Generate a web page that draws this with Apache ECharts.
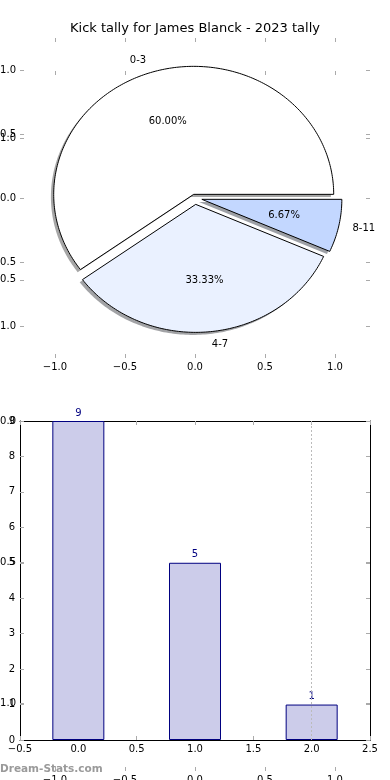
<!DOCTYPE html>
<html><head><meta charset="utf-8">
<script src="https://cdn.jsdelivr.net/npm/echarts@6/dist/echarts.min.js"></script>
<style>html,body{margin:0;padding:0;background:#fff}#c{width:390px;height:780px}</style>
</head><body><div id="c"></div>
<script>
// ---- data ----
const chartTitle = 'Kick tally for James Blanck - 2023 tally';
const pieLabels = ['0-3', '4-7', '8-11'];
const pieValues = [9, 5, 1];
const pieColors = ['#ffffff', '#eaf1ff', '#c3d7ff'];
const pieExplode = [0.03, 0.05, 0.05];
const barX = [0, 1, 2];
const barValues = [9, 5, 1];
const pieTicks = [-1, -0.5, 0, 0.5, 1];
const ghostTicks = [-1, -0.5, 0, 0.5, 1];
const watermark = 'Dream-Stats.com';

const FONT = 'DejaVu Sans';
const TICK = '#aaaaaa';
const total = pieValues.reduce((a, b) => a + b, 0);
let acc = 0;
const wedges = pieValues.map((v, i) => {
  const s = acc / total * 360; acc += v; const e = acc / total * 360;
  return [s, e, pieExplode[i], i];
});
const fmt1 = v => (v < 0 ? '\u2212' : '') + Math.abs(v).toFixed(1);

function shadowColor(hex) {
  const r = parseInt(hex.slice(1, 3), 16), g = parseInt(hex.slice(3, 5), 16), b = parseInt(hex.slice(5, 7), 16);
  return 'rgba(' + Math.round(r * 0.3) + ',' + Math.round(g * 0.3) + ',' + Math.round(b * 0.3) + ',0.5)';
}

function wedgeRender(shadow) {
  return function (params, api) {
    const s = api.value(0), e = api.value(1), ex = api.value(2), i = api.value(3);
    const mid = (s + e) / 2 * Math.PI / 180;
    const off = shadow ? -0.02 : 0;
    const cx = ex * Math.cos(mid) + off, cy = ex * Math.sin(mid) + off;
    const pts = [api.coord([cx, cy])];
    const n = Math.max(10, Math.ceil(e - s));
    for (let k = 0; k <= n; k++) {
      const a = (s + (e - s) * k / n) * Math.PI / 180;
      pts.push(api.coord([cx + Math.cos(a), cy + Math.sin(a)]));
    }
    if (shadow) {
      return { type: 'polygon', shape: { points: pts }, style: { fill: shadowColor(pieColors[i]), stroke: null } };
    }
    const lp = api.coord([cx + 1.1 * Math.cos(mid), cy + 1.1 * Math.sin(mid)]);
    const pp = api.coord([cx + 0.6 * Math.cos(mid), cy + 0.6 * Math.sin(mid)]);
    const pct = (pieValues[i] / total * 100).toFixed(2) + '%';
    return {
      type: 'group',
      children: [
        { type: 'polygon', shape: { points: pts }, style: { fill: pieColors[i], stroke: '#000', lineWidth: 1 } },
        { type: 'text', x: lp[0], y: lp[1], style: { text: pieLabels[i], fill: '#000', font: '10px "' + FONT + '"', align: Math.cos(mid) >= 0 ? 'left' : 'right', verticalAlign: 'middle' } },
        { type: 'text', x: pp[0], y: pp[1], style: { text: pct, fill: '#000', font: '10px "' + FONT + '"', align: 'center', verticalAlign: 'middle' } }
      ]
    };
  };
}

const tickBase = { show: true, inside: true, length: 4, lineStyle: { color: TICK, width: 1 } };
const lblBase = { color: '#000', fontSize: 10, fontFamily: FONT };

function ghostX(grid, pos, labels, min, max, cv) {
  return {
    type: 'value', gridIndex: grid, position: pos, min: min, max: max,
    axisLine: { show: false, onZero: false }, splitLine: { show: false },
    axisTick: Object.assign({}, tickBase, { customValues: cv }),
    axisLabel: labels ? Object.assign({}, lblBase, { show: true, customValues: cv, formatter: fmt1, margin: 4, hideOverlap: false }) : { show: false }
  };
}

const chart = echarts.init(document.getElementById('c'), null, { renderer: 'canvas' });
chart.setOption({
  animation: false,
  backgroundColor: '#fff',
  textStyle: { fontFamily: FONT },
  title: { text: chartTitle, left: 'center', top: 22, padding: 0, textStyle: { fontSize: 13, fontWeight: 'normal', color: '#000', fontFamily: FONT } },
  grid: [
    { left: 20, top: 38, width: 350, height: 320, outerBoundsMode: 'none', containLabel: false },
    { left: 20, top: 421, width: 350, height: 319, outerBoundsMode: 'none', containLabel: false },
    { left: 20, top: 71, width: 350, height: 700, outerBoundsMode: 'none', containLabel: false }
  ],
  xAxis: [
    ghostX(0, 'bottom', true, -1.25, 1.25, pieTicks),
    ghostX(0, 'top', false, -1.25, 1.25, pieTicks),
    {
      type: 'value', gridIndex: 1, position: 'bottom', min: -0.5, max: 2.5, interval: 0.5,
      axisLine: { show: true, onZero: false, lineStyle: { color: '#000', width: 1 } }, splitLine: { show: false },
      axisTick: tickBase, axisLabel: Object.assign({}, lblBase, { formatter: fmt1, margin: 4, showMinLabel: true, showMaxLabel: true })
    },
    {
      type: 'value', gridIndex: 1, position: 'top', min: -0.5, max: 2.5, interval: 0.5,
      axisLine: { show: true, onZero: false, lineStyle: { color: '#000', width: 1 } }, splitLine: { show: false },
      axisTick: tickBase, axisLabel: { show: false }
    },
    ghostX(2, 'bottom', true, -1.25, 1.25, ghostTicks),
    ghostX(2, 'top', false, -1.25, 1.25, ghostTicks)
  ],
  yAxis: [
    ghostX(0, 'left', true, -1.25, 1.25, pieTicks),
    ghostX(0, 'right', false, -1.25, 1.25, pieTicks),
    {
      type: 'value', gridIndex: 1, position: 'left', min: 0, max: 9, interval: 1,
      axisLine: { show: true, onZero: false, lineStyle: { color: '#000', width: 1 } }, splitLine: { show: false },
      axisTick: tickBase, axisLabel: Object.assign({}, lblBase, { margin: 5 })
    },
    {
      type: 'value', gridIndex: 1, position: 'right', min: 0, max: 9, interval: 1,
      axisLine: { show: true, onZero: false, lineStyle: { color: '#000', width: 1 } }, splitLine: { show: false },
      axisTick: tickBase, axisLabel: { show: false }
    },
    ghostX(2, 'left', true, -1.24, 1.24, ghostTicks),
    ghostX(2, 'right', false, -1.24, 1.24, ghostTicks)
  ],
  graphic: [
    { type: 'text', left: 0, top: 764, style: { text: watermark, fill: '#9a9a9a', font: 'bold 10.5px "' + FONT + '"' } }
  ],
  series: [
    { type: 'custom', name: 'shadow', xAxisIndex: 0, yAxisIndex: 0, data: wedges, renderItem: wedgeRender(true), z: 1, silent: true },
    { type: 'custom', name: 'pie', xAxisIndex: 0, yAxisIndex: 0, data: wedges, renderItem: wedgeRender(false), z: 2, silent: true },
    {
      type: 'bar', xAxisIndex: 2, yAxisIndex: 2, barWidth: 52,
      data: barX.map((x, i) => [x, barValues[i]]),
      itemStyle: { color: '#ccccea', borderColor: '#000080', borderWidth: 1 },
      label: { show: true, position: 'top', distance: 3, color: '#000080', fontSize: 10, fontFamily: FONT },
      markLine: {
        silent: true, symbol: 'none', label: { show: false },
        lineStyle: { type: [2, 2], color: '#bbbbbb', width: 1 },
        data: [{ xAxis: 2 }]
      }
    }
  ]
});
</script>
</body></html>
